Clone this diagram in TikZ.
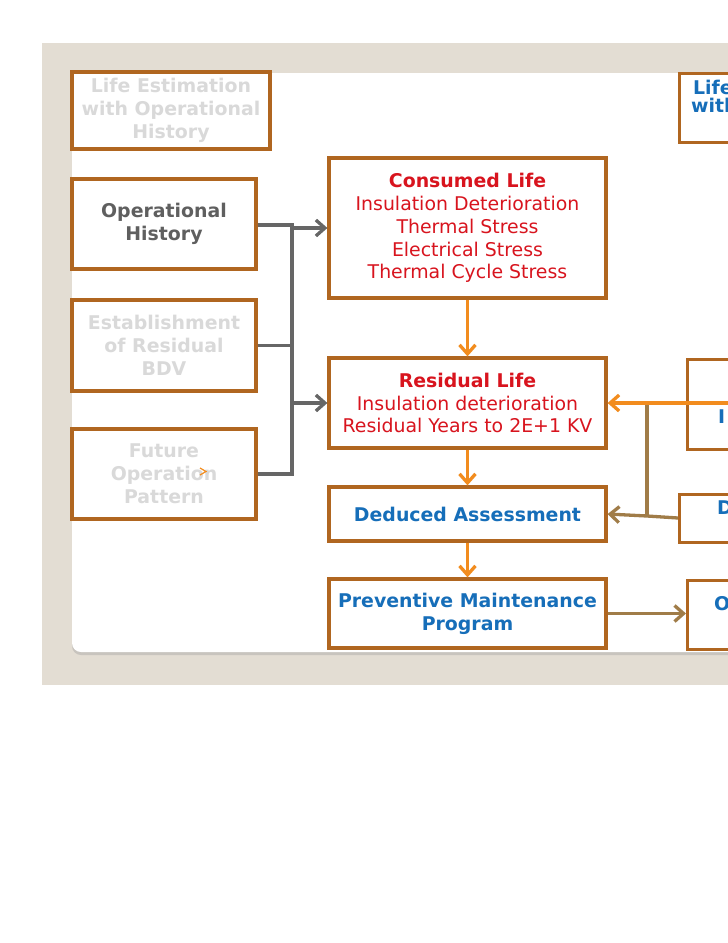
\documentclass[tikz,border=0pt]{standalone}
\usepackage{fontspec}
\setmainfont{DejaVu Sans}
\usetikzlibrary{arrows.meta}
\definecolor{bgbeige}{RGB}{227,221,211}
\definecolor{boxbrown}{RGB}{176,102,32}
\definecolor{txtred}{RGB}{216,20,30}
\definecolor{txtblue}{RGB}{22,110,185}
\definecolor{txtdark}{RGB}{95,95,95}
\definecolor{txtlight}{RGB}{217,217,217}
\definecolor{lngray}{RGB}{102,102,102}
\definecolor{lnorange}{RGB}{242,140,30}
\definecolor{lnolive}{RGB}{160,124,72}
\definecolor{shadowgray}{RGB}{200,196,190}
\begin{document}
\begin{tikzpicture}[x=1pt,y=-1pt,
  box/.style={draw=boxbrown, line width=3.3pt, fill=white, rectangle, inner sep=0pt,
    align=center, font=\fontsize{18.9}{22.8}\selectfont},
  boldbox/.style={box, font=\fontsize{18.9}{22.8}\selectfont\bfseries},
  lbl/.style={inner sep=0pt, font=\fontsize{18.9}{18}\selectfont\bfseries, text=txtblue},
  graylink/.style={draw=lngray, line width=3.3pt},
  orangelink/.style={draw=lnorange, line width=3.3pt},
  olivelink/.style={draw=lnolive, line width=3.3pt},
  tip/.style={-{Straight Barb[length=9pt,width=16pt]}}
]
\useasboundingbox (0,0) rectangle (728,943);
\fill[white] (0,0) rectangle (728,943);
\clip (0,0) rectangle (728,943);
% panel
\fill[bgbeige] (42,43) rectangle (760,685);
\fill[shadowgray, rounded corners=9pt] (72,76) rectangle (780,655);
\fill[white, rounded corners=9pt] (72,73) rectangle (780,652);

% left column
\node[boldbox, minimum width=198pt, minimum height=77pt, text=txtlight]
  (life) at (171,110.5) {Life Estimation\\with Operational\\History};
\node[boldbox, minimum width=184pt, minimum height=90pt, text=txtdark]
  (ophist) at (164,224) {Operational\\History};
\node[boldbox, minimum width=184pt, minimum height=91pt, text=txtlight]
  (estab) at (164,345.5) {Establishment\\of Residual\\BDV};
\node[boldbox, minimum width=184pt, minimum height=90pt, text=txtlight]
  (future) at (164,474) {Future\\Operation\\Pattern};
\draw[lnorange, line width=1.2pt] (200,468) -- (206,471.5) -- (200,475);

% middle column
\node[box, minimum width=277pt, minimum height=140pt, text=txtred]
  (consumed) at (467.5,228) {{\bfseries Consumed Life}\\Insulation Deterioration\\Thermal Stress\\Electrical Stress\\Thermal Cycle Stress};
\node[box, minimum width=277pt, minimum height=90pt, text=txtred]
  (residual) at (467.5,403) {{\bfseries Residual Life}\\Insulation deterioration\\Residual Years to 2E+1 KV};
\node[boldbox, minimum width=277pt, minimum height=54pt, text=txtblue]
  (deduced) at (467.5,514) {Deduced Assessment};
\node[boldbox, minimum width=277pt, minimum height=69pt, text=txtblue]
  (prevent) at (467.5,613.5) {Preventive Maintenance\\Program};

% right column (cut off at the page edge, as in the reference)
\node[box, minimum width=200pt, minimum height=69pt, anchor=north west] (rlife) at (678,72) {};
\node[box, minimum width=200pt, minimum height=90pt, anchor=north west] (rins) at (686,358) {};
\node[box, minimum width=200pt, minimum height=48pt, anchor=north west] (rded) at (678,493) {};
\node[box, minimum width=200pt, minimum height=69pt, anchor=north west] (rop) at (686,579) {};
\node[lbl, anchor=base west] (rlifea) at (693,94) {Life};
\node[lbl, anchor=base west] (rlifeb) at (691,112) {with};
\node[lbl, anchor=base west] (rinsa) at (718,423) {I};
\node[lbl, anchor=base west] (rdeda) at (717,514) {D};
\node[lbl, anchor=base west] (ropa) at (714,610) {O};

% gray connectors
\coordinate (gtop) at (292,225);
\coordinate (gmid) at (292,345.5);
\coordinate (gbot) at (292,474);
\coordinate (ga1) at (292,228);
\coordinate (ga2) at (292,403);
\draw[graylink] (ophist.east |- gtop) -- (gtop) -- (gbot) -- (future.east);
\draw[graylink] (estab.east) -- (gmid);
\draw[graylink, tip] (ga1) -- (consumed.west);
\draw[graylink, tip] (ga2) -- (residual.west);

% orange connectors
\draw[orangelink, tip] (consumed.south) -- (residual.north);
\draw[orangelink, tip] (residual.south) -- (deduced.north);
\draw[orangelink, tip] (deduced.south) -- (prevent.north);
\coordinate (osrc) at (760,403);
\coordinate (ojn) at (647,403);
\coordinate (ojb) at (647,516);
\draw[olivelink] (ojn) -- (ojb);
\draw[orangelink, tip] (osrc) -- (residual.east);

% olive connectors
\draw[olivelink, tip] (rded.west |- 0,518) -- (ojb) -- (deduced.east);
\draw[olivelink, tip] (prevent.east) -- (prevent.east -| rop.west);
\end{tikzpicture}
\end{document}
